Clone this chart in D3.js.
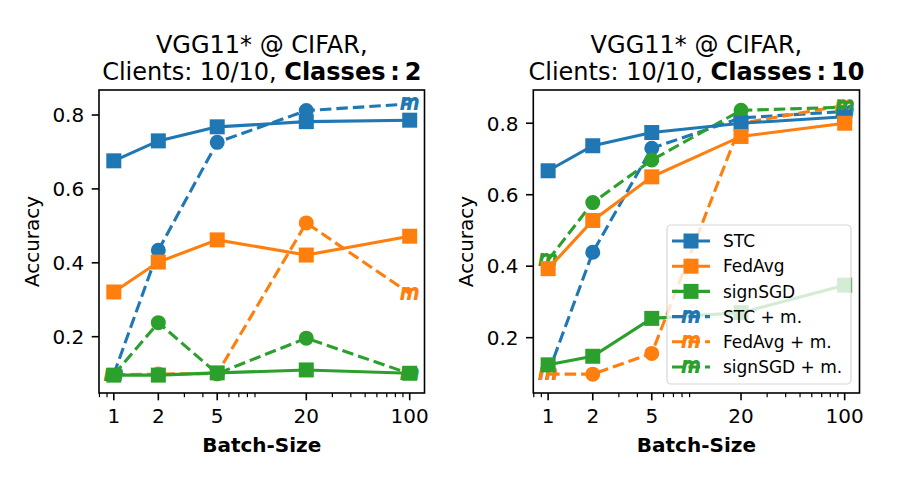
<!DOCTYPE html>
<html lang="en">

<head>
    <meta charset="UTF-8">
    <title>VGG11 CIFAR accuracy</title>
    <script src="https://cdn.jsdelivr.net/npm/d3@7"></script>
    <style>
        body {
            margin: 0;
            background: #ffffff;
        }

        text {
            font-family: 'DejaVu Sans', sans-serif;
            fill: #000;
        }
    </style>
</head>

<body>
    <div id="chart"></div>
    <script>
        const batchSizes = [1, 2, 5, 20, 100]
        const xTicks = [1, 2, 5, 20, 100]
        const yTicks = [0.2, 0.4, 0.6, 0.8]
        const methods = ["STC", "FedAvg", "signSGD"]
        const colors = ["#1f77b4", "#ff7f0e", "#2ca02c"]

        // Classes: 2
        const stc2 = [0.676, 0.730, 0.768, 0.782, 0.786]
        const fedavg2 = [0.321, 0.402, 0.462, 0.421, 0.472]
        const signsgd2 = [0.096, 0.096, 0.102, 0.110, 0.101]
        const stcM2 = [0.098, 0.434, 0.726, 0.812, 0.830]
        const fedavgM2 = [0.097, 0.099, 0.100, 0.508, 0.317]
        const signsgdM2 = [0.097, 0.238, 0.100, 0.196, 0.100]

        // Classes: 10
        const stc10 = [0.667, 0.737, 0.774, 0.800, 0.818]
        const fedavg10 = [0.393, 0.528, 0.650, 0.763, 0.800]
        const signsgd10 = [0.124, 0.148, 0.254, 0.270, 0.347]
        const stcM10 = [0.100, 0.439, 0.730, 0.815, 0.833]
        const fedavgM10 = [0.098, 0.098, 0.156, 0.800, 0.850]
        const signsgdM10 = [0.417, 0.578, 0.697, 0.836, 0.845]

        const width = 900
        const height = 480
        const axTop = 90, axBottom = 393
        const mSize = 19

        const svg = d3.select("#chart").append("svg")
            .attr("width", width)
            .attr("height", height)

        function mMarker(g, x, y, color) {
            g.append("text")
                .attr("x", x)
                .attr("y", y + 0.2735 * mSize)
                .attr("text-anchor", "middle")
                .style("font-size", mSize + "px")
                .style("font-style", "italic")
                .style("fill", color)
                .style("stroke", color)
                .style("stroke-width", 1.8)
                .text("m")
        }

        function squareMarker(g, x, y, color) {
            g.append("rect")
                .attr("x", x - 6.5).attr("y", y - 6.5)
                .attr("width", 13).attr("height", 13)
                .attr("fill", color).attr("stroke", color).attr("stroke-width", 2)
        }

        function panel(left, right, yDomain, solid, dashed, classes, legend) {
            const x = d3.scaleLog().domain([Math.pow(10, -0.1), Math.pow(10, 2.1)]).range([left, right])
            const y = d3.scaleLinear().domain(yDomain).range([axBottom, axTop])
            const g = svg.append("g")
            const line = d3.line().x((d, i) => x(batchSizes[i])).y(d => y(d))

            // dashed (+ momentum) series first, solid ones on top
            dashed.forEach((vals, k) => {
                const s = g.append("g")
                s.append("path").attr("d", line(vals))
                    .attr("fill", "none").attr("stroke", colors[k])
                    .attr("stroke-width", 3.1).attr("stroke-dasharray", "11.5,5")
                vals.forEach((v, i) => {
                    if (i == 0 || i == vals.length - 1) mMarker(s, x(batchSizes[i]), y(v), colors[k])
                    else s.append("circle").attr("cx", x(batchSizes[i])).attr("cy", y(v)).attr("r", 6.5)
                        .attr("fill", colors[k]).attr("stroke", colors[k]).attr("stroke-width", 2)
                })
            })
            solid.forEach((vals, k) => {
                const s = g.append("g")
                s.append("path").attr("d", line(vals))
                    .attr("fill", "none").attr("stroke", colors[k]).attr("stroke-width", 3.1)
                vals.forEach((v, i) => squareMarker(s, x(batchSizes[i]), y(v), colors[k]))
            })

            // spines
            g.append("rect").attr("x", left).attr("y", axTop)
                .attr("width", right - left).attr("height", axBottom - axTop)
                .attr("fill", "none").attr("stroke", "#000").attr("stroke-width", 1.6)

            // x ticks
            const minor = []
            for (let e = -1; e <= 2; e++) {
                for (let m = 2; m <= 9; m++) {
                    const v = m * Math.pow(10, e)
                    if (v >= x.domain()[0] && v <= x.domain()[1] && !xTicks.includes(v)) minor.push(v)
                }
            }
            g.selectAll(".minor").data(minor).enter().append("line")
                .attr("x1", d => x(d)).attr("x2", d => x(d))
                .attr("y1", axBottom).attr("y2", axBottom + 4.2)
                .attr("stroke", "#000").attr("stroke-width", 1.2)
            g.selectAll(".xmaj").data(xTicks).enter().append("line")
                .attr("x1", d => x(d)).attr("x2", d => x(d))
                .attr("y1", axBottom).attr("y2", axBottom + 7.3)
                .attr("stroke", "#000").attr("stroke-width", 1.6)
            g.selectAll(".xlab").data(xTicks).enter().append("text")
                .attr("x", d => x(d)).attr("y", 423)
                .attr("text-anchor", "middle").style("font-size", "20px")
                .text(d => d)

            // y ticks
            g.selectAll(".ymaj").data(yTicks).enter().append("line")
                .attr("x1", left).attr("x2", left - 7.3)
                .attr("y1", d => y(d)).attr("y2", d => y(d))
                .attr("stroke", "#000").attr("stroke-width", 1.6)
            g.selectAll(".ylab").data(yTicks).enter().append("text")
                .attr("x", left - 14.8).attr("y", d => y(d) + 7.3)
                .attr("text-anchor", "end").style("font-size", "20px")
                .text(d => d3.format(".1f")(d))

            // labels
            g.append("text").attr("x", (left + right) / 2).attr("y", 452)
                .attr("text-anchor", "middle").style("font-size", "20px").style("font-weight", "bold")
                .text("Batch-Size")
            g.append("text")
                .attr("transform", `translate(${left - 60},${(axTop + axBottom) / 2}) rotate(-90)`)
                .attr("text-anchor", "middle").style("font-size", "20px")
                .text("Accuracy")

            const cx = (left + right) / 2
            g.append("text").attr("x", cx).attr("y", 52.7)
                .attr("text-anchor", "middle").style("font-size", "24px")
                .text("VGG11* @ CIFAR,")
            const t2 = g.append("text").attr("x", cx).attr("y", 80)
                .attr("text-anchor", "middle").style("font-size", "24px")
            t2.append("tspan").text("Clients: 10/10, ")
            t2.append("tspan").style("font-weight", "bold").text("Classes\u2009:\u2009" + classes)

            if (legend) {
                const lx = 667, ly = 225
                const lg = g.append("g")
                lg.append("rect").attr("x", lx).attr("y", ly).attr("width", 184).attr("height", 159)
                    .attr("rx", 4).attr("fill", "#fff").attr("fill-opacity", 0.8)
                    .attr("stroke", "#ccc").attr("stroke-opacity", 0.8).attr("stroke-width", 1.2)
                const labels = methods.concat(methods.map(m => m + " + m."))
                labels.forEach((lab, i) => {
                    const ry = 241 + i * 25.2
                    const k = i % 3
                    const l = lg.append("line").attr("x1", 672).attr("x2", 710).attr("y1", ry).attr("y2", ry)
                        .attr("stroke", colors[k]).attr("stroke-width", 3.1)
                    if (i < 3) squareMarker(lg, 691, ry, colors[k])
                    else {
                        l.attr("stroke-dasharray", "11.5,5")
                        mMarker(lg, 691, ry, colors[k])
                    }
                    lg.append("text").attr("x", 723).attr("y", ry + 6.2)
                        .style("font-size", "17px").text(lab)
                })
            }
        }

        panel(99, 424.5, [0.0476, 0.8677],
            [stc2, fedavg2, signsgd2], [stcM2, fedavgM2, signsgdM2], 2, false)
        panel(533.3, 859.5, [0.0452, 0.893],
            [stc10, fedavg10, signsgd10], [stcM10, fedavgM10, signsgdM10], 10, true)
    </script>
</body>

</html>
